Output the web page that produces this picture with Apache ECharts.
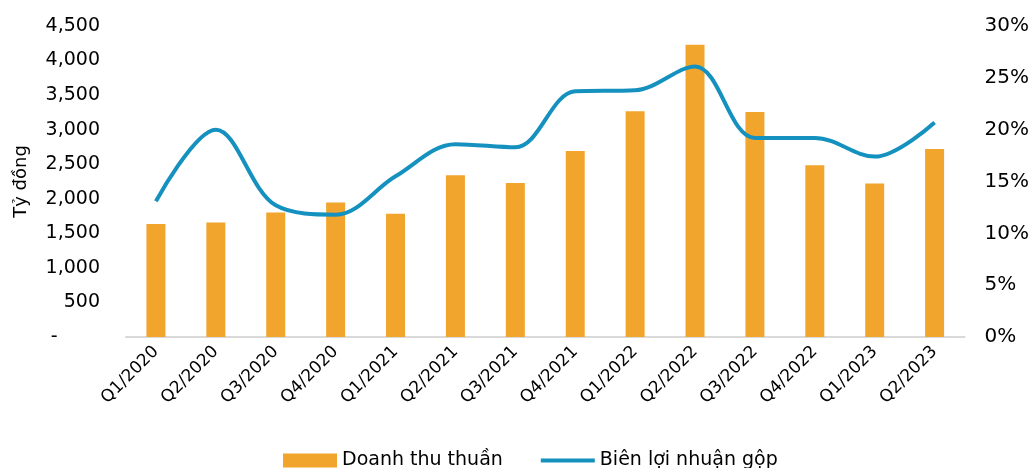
<!DOCTYPE html>
<html>
<head>
<meta charset="utf-8">
<script src="https://cdn.jsdelivr.net/npm/echarts@6/dist/echarts.min.js"></script>
<style>
  html, body { margin: 0; padding: 0; background: #fff; }
  #chart { width: 1032px; height: 468px; }
</style>
</head>
<body>
<div id="chart"></div>
<script>
var quarters = ['Q1/2020', 'Q2/2020', 'Q3/2020', 'Q4/2020', 'Q1/2021', 'Q2/2021', 'Q3/2021',
  'Q4/2021', 'Q1/2022', 'Q2/2022', 'Q3/2022', 'Q4/2022', 'Q1/2023', 'Q2/2023'];
var revenue = [1635, 1655, 1800, 1945, 1785, 2340, 2230, 2690, 3265, 4230, 3255, 2485, 2220, 2720];
var grossMargin = [13.1, 20.0, 12.7, 11.8, 15.5, 18.6, 18.3, 23.7, 23.8, 26.1, 19.2, 19.2, 17.4, 20.7];

var font = '"DejaVu Sans", sans-serif';
var chart = echarts.init(document.getElementById('chart'));

chart.setOption({
  animation: false,
  textStyle: { fontFamily: font, color: '#000' },
  grid: { left: 126, right: 66, top: 26, bottom: 131 },
  legend: {
    bottom: -7,
    left: 278,
    itemGap: 38,
    itemWidth: 54,
    itemHeight: 14,
    textStyle: { fontSize: 19, fontFamily: font, color: '#000' },
    data: [
      { name: 'Doanh thu thuần', icon: 'rect' },
      { name: 'Biên lợi nhuận gộp', icon: 'path://M0,0 L0,0 M0,5 L54,5 L54,9 L0,9 Z M0,14 L0,14' }
    ]
  },
  xAxis: {
    type: 'category',
    data: quarters,
    axisTick: { show: false },
    axisLine: { lineStyle: { color: '#d9d9d9', width: 2 } },
    axisLabel: { rotate: 45, fontSize: 17, color: '#000', margin: 12, fontFamily: font }
  },
  yAxis: [
    {
      type: 'value',
      min: 0,
      max: 4500,
      interval: 500,
      name: 'Tỷ đồng',
      nameLocation: 'middle',
      nameRotate: 90,
      nameGap: 96,
      nameTextStyle: { fontSize: 18, color: '#000', fontFamily: font },
      splitLine: { show: false },
      axisLabel: {
        fontSize: 19,
        color: '#000',
        margin: 26,
        formatter: function (v) { return v === 0 ? '-       ' : v.toLocaleString('en-US'); }
      }
    },
    {
      type: 'value',
      min: 0,
      max: 30,
      interval: 5,
      splitLine: { show: false },
      axisLabel: {
        fontSize: 20,
        color: '#000',
        margin: 20,
        formatter: '{value}%'
      }
    }
  ],
  series: [
    {
      name: 'Doanh thu thuần',
      type: 'bar',
      data: revenue,
      barWidth: 19,
      itemStyle: { color: '#F2A52C' }
    },
    {
      name: 'Biên lợi nhuận gộp',
      type: 'line',
      yAxisIndex: 1,
      data: grossMargin,
      smooth: 0.35,
      symbol: 'none',
      lineStyle: { color: '#1591BF', width: 4 },
      itemStyle: { color: '#1591BF' }
    }
  ]
});
</script>
</body>
</html>
